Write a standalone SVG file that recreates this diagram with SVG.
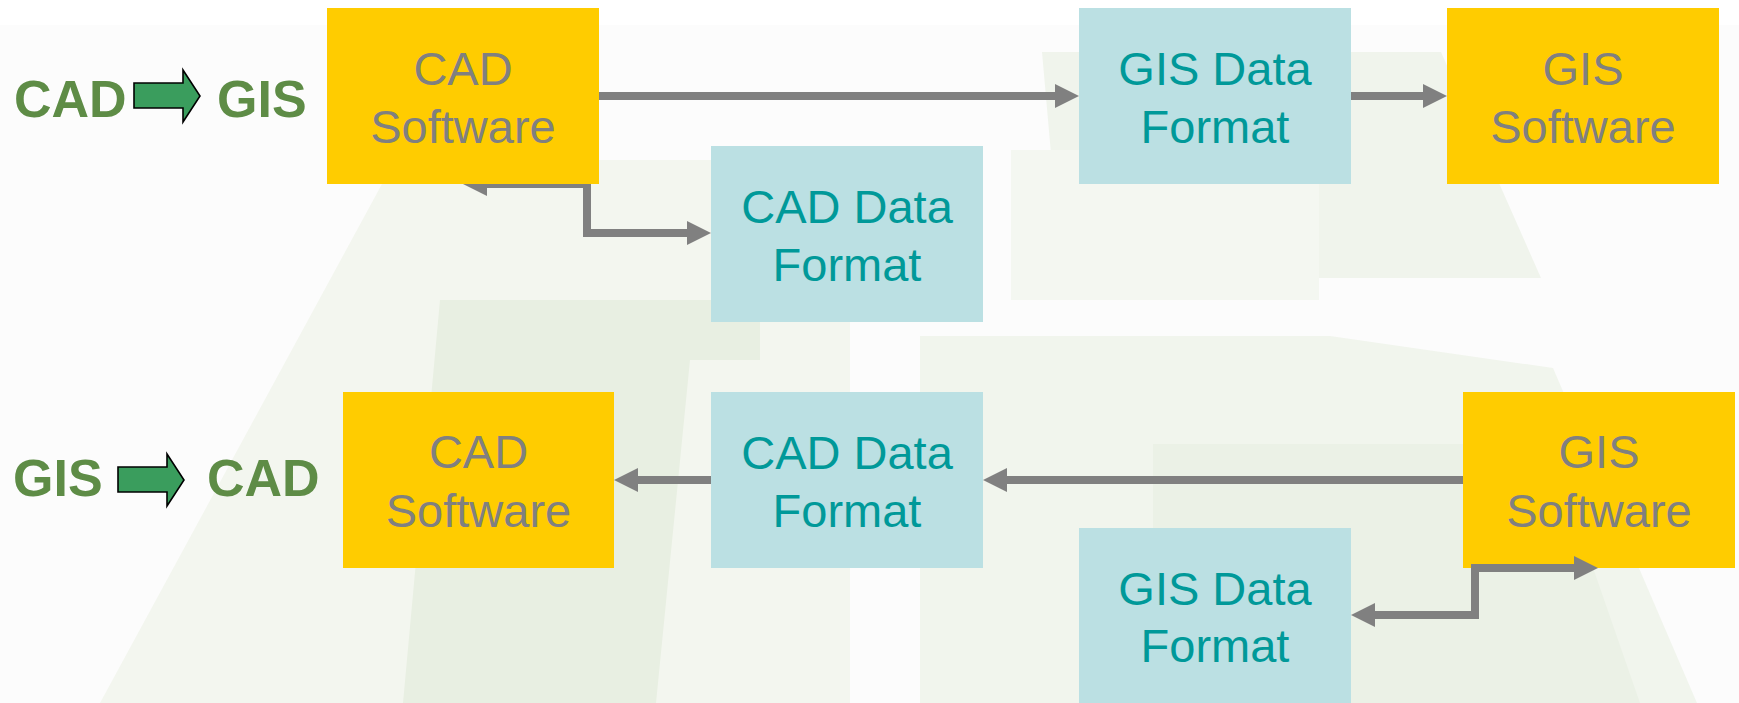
<svg xmlns="http://www.w3.org/2000/svg" width="1739" height="703" viewBox="0 0 1739 703">
<style>
.sw{fill:#FFCC00}
.df{fill:#BBE0E3}
.st{font-family:"Liberation Sans",Arial,sans-serif;font-size:47px;fill:#808080;text-anchor:middle}
.dt{font-family:"Liberation Sans",Arial,sans-serif;font-size:47px;fill:#009999;text-anchor:middle}
.lbl{font-family:"Liberation Sans",Arial,sans-serif;font-size:52px;font-weight:bold;fill:#5E8C46}
.blk{fill:#3A9D5D;stroke:#000;stroke-width:1.6;stroke-linejoin:miter}
.con{fill:none;stroke:#808080;stroke-width:8;marker-end:url(#ah)}
.both{marker-start:url(#ah)}
</style>
<defs>
<marker id="ah" viewBox="0 0 24 24" markerWidth="24" markerHeight="24" refX="4" refY="12" orient="auto-start-reverse" markerUnits="userSpaceOnUse">
<path d="M0,0 L24,12 L0,24 Z" fill="#808080"/>
</marker>
</defs>
<g id="background">
<rect x="0" y="0" width="1739" height="703" fill="#FCFCFC"/>
<rect x="0" y="0" width="1739" height="25" fill="#FFFFFF"/>
<polygon points="395,160 850,160 850,703 100,703" fill="#F3F6EF"/>
<polygon points="440,300 760,300 760,360 690,360 656,703 403,703" fill="#E8EFE2"/>
<polygon points="1042,52 1441,52 1541,278 1062,278" fill="#F0F4EC"/>
<polygon points="1011,150 1319,150 1319,300 1011,300" fill="#F4F7F1"/>
<polygon points="920,336 1330,336 1553,368 1697,703 920,703" fill="#F1F5ED"/>
<polygon points="1153,444 1550,444 1640,703 1153,703" fill="#EBF1E6"/>
</g>
<g id="label-cad-to-gis">
<text class="lbl" x="14" y="117">CAD</text>
<polygon class="blk" points="134,83 183,83 183,70 200,96 183,122 183,108 134,108"/>
<text class="lbl" x="217" y="117">GIS</text>
</g>
<g id="label-gis-to-cad">
<text class="lbl" x="13" y="496">GIS</text>
<polygon class="blk" points="118,467 167,467 167,454 184,480 167,506 167,492 118,492"/>
<text class="lbl" x="207" y="496">CAD</text>
</g>
<g id="gis-software-2">
<rect class="sw" x="1463" y="392" width="272" height="176"/>
<text class="st" x="1599" y="468">GIS</text>
<text class="st" x="1599" y="527">Software</text>
</g>
<g id="connectors">
<path class="con" d="M599,96 H1059"/>
<path class="con" d="M1351,96 H1427"/>
<path class="con both" d="M483,184 H587 V233 H691"/>
<path class="con" d="M1463,480 H1003"/>
<path class="con" d="M711,480 H634"/>
<path class="con both" d="M1371,615 H1475 V568 H1578"/>
</g>
<g id="cad-software-1">
<rect class="sw" x="327" y="8" width="272" height="176"/>
<text class="st" x="463" y="85">CAD</text>
<text class="st" x="463" y="143">Software</text>
</g>
<g id="gis-data-format-1">
<rect class="df" x="1079" y="8" width="272" height="176"/>
<text class="dt" x="1215" y="85">GIS Data</text>
<text class="dt" x="1215" y="143">Format</text>
</g>
<g id="gis-software-1">
<rect class="sw" x="1447" y="8" width="272" height="176"/>
<text class="st" x="1583" y="85">GIS</text>
<text class="st" x="1583" y="143">Software</text>
</g>
<g id="cad-data-format-1">
<rect class="df" x="711" y="146" width="272" height="176"/>
<text class="dt" x="847" y="223">CAD Data</text>
<text class="dt" x="847" y="281">Format</text>
</g>
<g id="cad-software-2">
<rect class="sw" x="343" y="392" width="271" height="176"/>
<text class="st" x="478.5" y="468">CAD</text>
<text class="st" x="478.5" y="527">Software</text>
</g>
<g id="cad-data-format-2">
<rect class="df" x="711" y="392" width="272" height="176"/>
<text class="dt" x="847" y="469">CAD Data</text>
<text class="dt" x="847" y="527">Format</text>
</g>
<g id="gis-data-format-2">
<rect class="df" x="1079" y="528" width="272" height="176"/>
<text class="dt" x="1215" y="605">GIS Data</text>
<text class="dt" x="1215" y="662">Format</text>
</g>
</svg>
